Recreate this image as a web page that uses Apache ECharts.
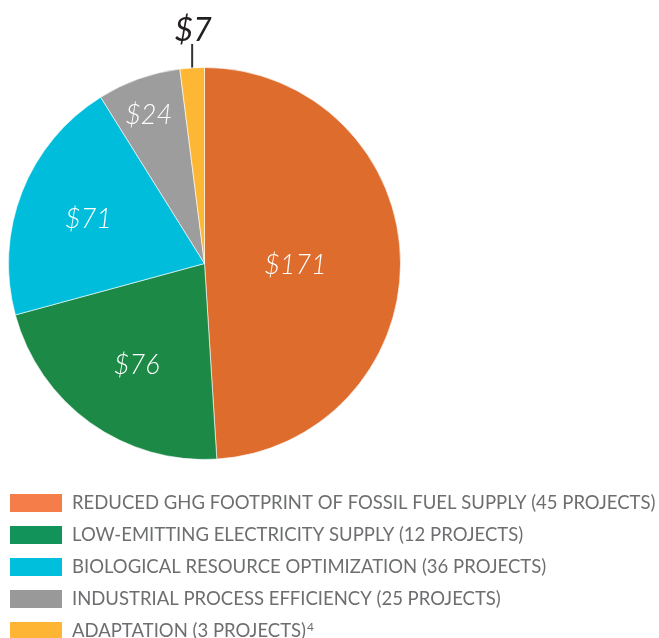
<!DOCTYPE html>
<html>
<head>
<meta charset="utf-8">
<script src="https://cdn.jsdelivr.net/npm/echarts@6/dist/echarts.min.js"></script>
<style>
  html, body { margin: 0; padding: 0; background: #fff; }
  #main { width: 659px; height: 638px; }
</style>
</head>
<body>
<div id="main"></div>
<script>
var categories = [
    'REDUCED GHG FOOTPRINT OF FOSSIL FUEL SUPPLY (45 PROJECTS)',
    'LOW-EMITTING ELECTRICITY SUPPLY (12 PROJECTS)',
    'BIOLOGICAL RESOURCE OPTIMIZATION (36 PROJECTS)',
    'INDUSTRIAL PROCESS EFFICIENCY (25 PROJECTS)',
    'ADAPTATION (3 PROJECTS)'
];
var values = [171, 76, 71, 24, 7];
var sliceColors = ['#DD6C2D', '#1C8946', '#00BEDB', '#9D9D9D', '#FDB735'];
var legendColors = ['#F47D4A', '#11935A', '#00BFDD', '#999999', '#FDB533'];
var footnotes = ['', '', '', '', '4'];

var labelOffsets = [[-10, 5], [-9, 20], [-22, -7], [-22, -53], [0, 0]];

var myChart = echarts.init(document.getElementById('main'));

var lastIdx = values.length - 1;
var pieData = values.map(function (v, i) {
    var item = {
        name: categories[i],
        value: v,
        itemStyle: { color: sliceColors[i] },
        label: { offset: labelOffsets[i] }
    };
    if (i === lastIdx) {
        item.label = {
            position: 'outside',
            color: '#231f20',
            fontWeight: 400,
            fontSize: 32
        };
        item.labelLine = {
            show: true,
            length: 24,
            length2: 0,
            lineStyle: { color: '#333', width: 2 }
        };
    }
    return item;
});

myChart.setOption({
    animation: false,
    legend: {
        orient: 'vertical',
        left: 8,
        top: 492,
        height: 200,
        padding: 0,
        itemWidth: 54,
        itemHeight: 20,
        itemGap: 10,
        icon: 'rect',
        selectedMode: false,
        data: categories.map(function (c, i) {
            return { name: c, itemStyle: { color: legendColors[i] } };
        }),
        formatter: function (name) {
            var i = categories.indexOf(name);
            return footnotes[i] ? name + '{sup|' + footnotes[i] + '}' : name;
        },
        textStyle: {
            fontFamily: 'Lato',
            fontSize: 18.5,
            lineHeight: 20,
            color: '#6d6e70',
            padding: [0, 0, 0, 4],
            rich: {
                sup: { fontSize: 12, lineHeight: 20, color: '#6d6e70', verticalAlign: 'top', padding: [0, 0, 10, 1] }
            }
        }
    },
    series: [
        {
            type: 'pie',
            center: [204.5, 263.5],
            radius: 196,
            startAngle: 90,
            clockwise: true,
            data: pieData,
            itemStyle: { borderColor: '#ffffff', borderWidth: 0.6 },
            label: {
                show: true,
                position: 'inside',
                formatter: '${c}',
                color: '#ffffff',
                fontFamily: 'Lato',
                fontStyle: 'italic',
                fontWeight: 300,
                fontSize: 27
            },
            labelLine: { show: false },
            labelLayout: function (params) {
                if (params.dataIndex !== lastIdx || !params.labelLinePoints) {
                    return {};
                }
                var p0 = params.labelLinePoints[0];
                var p1 = params.labelLinePoints[1];
                var top = p1[1];
                return {
                    x: p0[0] + 1,
                    y: top + 3,
                    align: 'center',
                    verticalAlign: 'bottom',
                    labelLinePoints: [[p0[0], p0[1]], [p0[0], top], [p0[0], top]]
                };
            }
        }
    ]
});
</script>
</body>
</html>
